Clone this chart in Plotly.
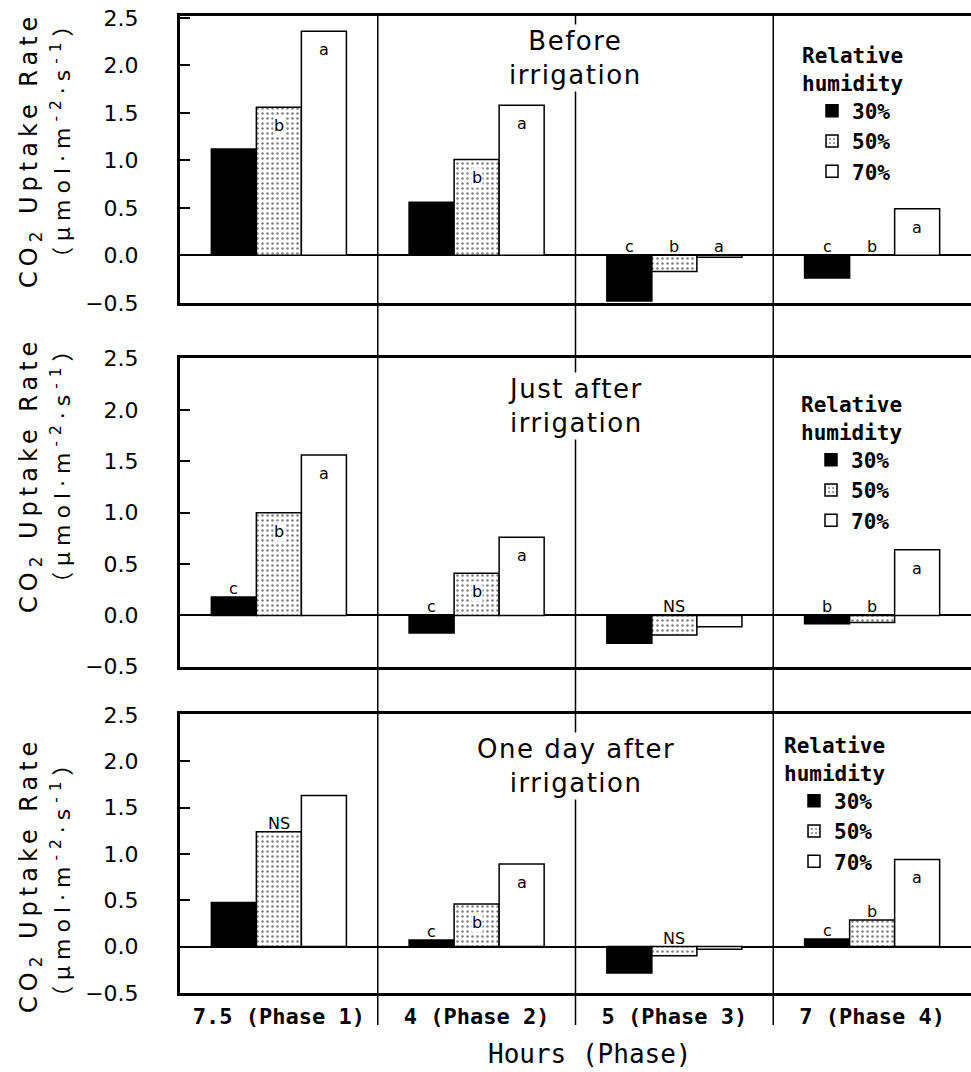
import plotly.graph_objects as go

# ---------------- data ----------------
categories = ["7.5 (Phase 1)", "4 (Phase 2)", "5 (Phase 3)", "7 (Phase 4)"]
series_names = ["30%", "50%", "70%"]
panel_titles = ["Before<br>irrigation", "Just after<br>irrigation", "One day after<br>irrigation"]
y_ticks = [-0.5, 0.0, 0.5, 1.0, 1.5, 2.0, 2.5]

before_30 = [1.12, 0.56, -0.48, -0.24]
before_50 = [1.56, 1.01, -0.17, 0.0]
before_70 = [2.36, 1.58, -0.02, 0.49]
before_letters_30 = ["", "", "c", "c"]
before_letters_50 = ["b", "b", "b", "b"]
before_letters_70 = ["a", "a", "a", "a"]

just_30 = [0.18, -0.17, -0.27, -0.08]
just_50 = [1.00, 0.41, -0.19, -0.07]
just_70 = [1.56, 0.76, -0.11, 0.64]
just_letters_30 = ["c", "c", "", "b"]
just_letters_50 = ["b", "b", "NS", "b"]
just_letters_70 = ["a", "a", "", "a"]

oneday_30 = [0.475, 0.07, -0.285, 0.08]
oneday_50 = [1.24, 0.46, -0.10, 0.285]
oneday_70 = [1.63, 0.89, -0.03, 0.94]
oneday_letters_30 = ["", "c", "", "c"]
oneday_letters_50 = ["NS", "b", "NS", "b"]
oneday_letters_70 = ["", "a", "", "a"]

panel_values = [
    [before_30, before_50, before_70],
    [just_30, just_50, just_70],
    [oneday_30, oneday_50, oneday_70],
]
panel_letters = [
    [before_letters_30, before_letters_50, before_letters_70],
    [just_letters_30, just_letters_50, just_letters_70],
    [oneday_letters_30, oneday_letters_50, oneday_letters_70],
]

# ---------------- layout geometry (page pixels) ----------------
W, H = 971, 1072
def fx(px):
    return px / W
def fy(py):
    return 1 - py / H

boxes = [(16, 303), (358, 667), (714, 993)]
yranges = [[-0.502, 2.52], [-0.502, 2.505], [-0.502, 2.51]]
legend_pos = [(800, 36), (799, 385), (782, 726)]
title_centers = [58, 406, 766]
ytitle1_centers = [150, 475, 875]
ytitle2_centers = [139, 464, 878]

BARGAP = 0.317
bw = (1 - BARGAP) / 3.0

styles = [
    dict(color="black", line=dict(color="black", width=1.5)),
    dict(color="white", line=dict(color="black", width=1.5),
         pattern=dict(shape=".", fgcolor="black", bgcolor="white", size=5, solidity=0.2)),
    dict(color="white", line=dict(color="black", width=1.5)),
]

MONO = "DejaVu Sans Mono"
SANS = "DejaVu Sans"

fig = go.Figure()
annotations = []

for p in range(3):
    k = "" if p == 0 else str(p + 1)
    xref, yref = "x" + k, "y" + k
    legend_name = "legend" + k
    for s in range(3):
        fig.add_trace(go.Bar(
            x=categories, y=panel_values[p][s], name=series_names[s],
            marker=styles[s], xaxis=xref, yaxis=yref,
            legend=legend_name, showlegend=True, width=bw,
            hoverinfo="x+y+name",
        ))
        # significance letters
        for i, letter in enumerate(panel_letters[p][s]):
            if not letter:
                continue
            v = panel_values[p][s][i]
            inside = (v > 0.3) and letter != "NS"
            if inside:
                annotations.append(dict(
                    x=i + (s - 1) * bw, y=v, xref=xref, yref=yref, text=letter,
                    showarrow=False, yanchor="top", yshift=-8,
                    font=dict(family=SANS, size=16, color="black"),
                    bgcolor="white" if s == 1 else None, borderpad=0))
            else:
                annotations.append(dict(
                    x=i + (s - 1) * bw, y=max(v, 0), xref=xref, yref=yref, text=letter,
                    showarrow=False, yanchor="bottom", yshift=-3,
                    font=dict(family=SANS, size=16, color="black")))

    # panel title (centred on the Phase 2 / Phase 3 boundary)
    annotations.append(dict(
        x=1.5, xref=xref, y=fy(title_centers[p]), yref="paper",
        text="<span style='letter-spacing:1.5px'>" + panel_titles[p] + "</span>",
        showarrow=False, xanchor="center", yanchor="middle",
        font=dict(family=SANS, size=26, color="black"),
        bgcolor="white", borderpad=1))

    # y-axis title (two lines)
    annotations.append(dict(
        x=fx(30), y=fy(ytitle1_centers[p]), xref="paper", yref="paper",
        text="<span style='letter-spacing:5px'>CO<sub>2</sub> Uptake Rate</span>",
        textangle=-90, showarrow=False, xanchor="center", yanchor="middle",
        font=dict(family=SANS, size=24, color="black")))
    annotations.append(dict(
        x=fx(61), y=fy(ytitle2_centers[p]), xref="paper", yref="paper",
        text="<span style='letter-spacing:6px'>（μmol·m<sup>-2</sup>·s<sup>-1</sup>）</span>",
        textangle=-90, showarrow=False, xanchor="center", yanchor="middle",
        font=dict(family="DejaVu Sans, Noto Sans CJK JP", size=22, color="black")))

# x-axis title
annotations.append(dict(
    x=fx(590), y=fy(1054), xref="paper", yref="paper", text="Hours (Phase)",
    showarrow=False, xanchor="center", yanchor="middle",
    font=dict(family=MONO, size=26, color="black")))

layout = dict(
    width=W, height=H,
    margin=dict(l=0, r=0, t=0, b=0, pad=0, autoexpand=False),
    plot_bgcolor="white", paper_bgcolor="white",
    barmode="group", bargap=BARGAP, bargroupgap=0,
    annotations=annotations,
)

for p in range(3):
    k = "" if p == 0 else str(p + 1)
    top, bot = boxes[p]
    layout["xaxis" + k] = dict(
        domain=[fx(180), 1.0], range=[-0.5, 3.5], type="category",
        categoryorder="array", categoryarray=categories,
        anchor="y" + k, showline=True, mirror=True, linewidth=3, linecolor="black",
        ticks="", showgrid=False, zeroline=False, automargin=False,
        showticklabels=(p == 2), ticklabelstandoff=2,
        tickfont=dict(family=MONO, size=22, color="black", weight="bold"),
    )
    layout["yaxis" + k] = dict(
        domain=[fy(bot), fy(top)], range=yranges[p], anchor="x" + k,
        showline=True, mirror=False, linewidth=3, linecolor="black", automargin=False,
        ticks="inside", ticklen=10, tickwidth=1.5, tickcolor="black",
        tickvals=y_ticks, tickformat=".1f", ticklabelstandoff=34,
        ticklabeloverflow="allow",
        tickfont=dict(family=SANS, size=22, color="black"),
        showgrid=False, zeroline=True, zerolinecolor="black", zerolinewidth=1.5,
    )
    lx, ly = legend_pos[p]
    layout["legend" + k] = dict(
        x=fx(lx), y=fy(ly), xanchor="left", yanchor="top",
        bgcolor="rgba(0,0,0,0)", borderwidth=0, tracegroupgap=0,
        indentation=12,
        title=dict(text="Relative<br>humidity",
                   font=dict(family=MONO, size=21, color="black", weight="bold")),
        font=dict(family=MONO, size=21, color="black", weight="bold"),
    )

# vertical separators between phases, running through all three panels
shapes = []
for b in [0.5, 1.5, 2.5]:
    shapes.append(dict(type="line", xref="x", yref="paper", x0=b, x1=b,
                       y0=fy(1025), y1=fy(16), line=dict(color="black", width=1.5)))
layout["shapes"] = shapes

fig.update_layout(**layout)
fig.write_html("out.html", config={"displayModeBar": False},
               post_script="document.body.style.margin='0';")
